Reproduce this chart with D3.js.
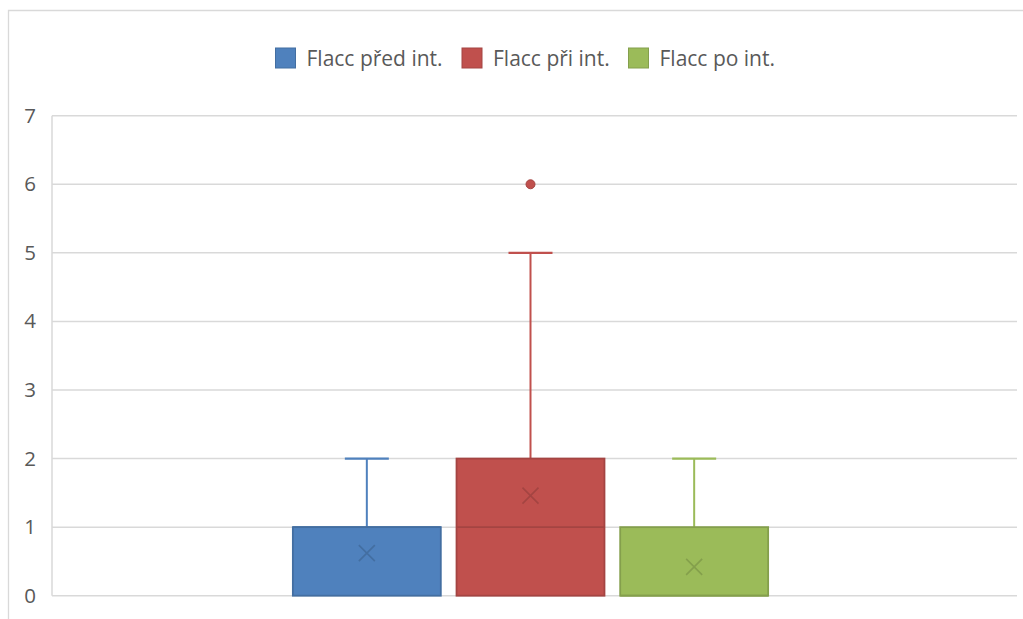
<!DOCTYPE html>
<html>
<head>
<meta charset="utf-8">
<script src="https://cdn.jsdelivr.net/npm/d3@7"></script>
<style>
  html, body { margin: 0; padding: 0; background: #fff; }
  svg { display: block; font-family: "Open Sans", "Noto Sans", sans-serif; }
</style>
</head>
<body>
<svg id="chart" width="1023" height="619"></svg>
<script>
// Box-and-whisker summary of FLACC scores before, during and after the intervention
const categories = [""];
const series = ["Flacc před int.", "Flacc při int.", "Flacc po int."];
const colors = ["#4F81BD", "#C0504D", "#9BBB59"];
const whiskerLow = [0, 0, 0];
const q1 = [0, 0, 0];
const median = [1, 1, 0];
const q3 = [1, 2, 1];
const whiskerHigh = [2, 5, 2];
const means = [0.62, 1.46, 0.42];
const outliers = [[], [6], []];
const yTicks = [0, 1, 2, 3, 4, 5, 6, 7];

const svg = d3.select("#chart");
const W = 1023, H = 619;
const plot = { left: 52, right: 1017, top: 115.7, bottom: 595.7 };
const textColor = "#595959";
const gridColor = "#d9d9d9";

// chart frame
svg.append("path")
  .attr("d", `M${W + 2},10.5 H8.5 V${H + 2}`)
  .attr("fill", "none").attr("stroke", gridColor).attr("stroke-width", 1.3);

const y = d3.scaleLinear().domain([0, 7]).range([plot.bottom, plot.top]);
const xCat = d3.scaleBand().domain(categories).range([plot.left, 1009]);
const catCenter = xCat(categories[0]) + xCat.bandwidth() / 2;
const xSer = d3.scaleBand().domain(series)
  .range([catCenter - 245.5, catCenter + 245.5])
  .paddingInner(0.096).paddingOuter(0.048);

// horizontal gridlines
svg.append("g").selectAll("line").data(yTicks).join("line")
  .attr("x1", plot.left).attr("x2", plot.right)
  .attr("y1", d => y(d)).attr("y2", d => y(d))
  .attr("stroke", gridColor).attr("stroke-width", 1.5);

// vertical axis line
svg.append("line")
  .attr("x1", plot.left).attr("x2", plot.left)
  .attr("y1", y(7)).attr("y2", y(0))
  .attr("stroke", gridColor).attr("stroke-width", 1.5);

// y axis labels
const yAxis = d3.axisLeft(y).tickValues(yTicks).tickSize(0).tickPadding(0).tickFormat(d3.format("d"));
const yg = svg.append("g").attr("transform", `translate(36,0)`).call(yAxis);
yg.select(".domain").remove();
yg.selectAll("text").attr("fill", textColor).attr("font-size", 20.5)
  .attr("font-family", "'Open Sans', sans-serif");

// boxes
const boxes = svg.append("g").selectAll("g").data(series).join("g");
boxes.each(function (s, i) {
  const g = d3.select(this);
  const c = colors[i];
  const dark = d3.color(c).darker(0.45).formatHex();
  const x0 = xSer(s), bw = xSer.bandwidth(), cx = x0 + bw / 2;
  const capW = 44;

  // upper whisker
  g.append("line").attr("x1", cx).attr("x2", cx)
    .attr("y1", y(q3[i])).attr("y2", y(whiskerHigh[i]))
    .attr("stroke", c).attr("stroke-width", 2);
  g.append("line").attr("x1", cx - capW / 2).attr("x2", cx + capW / 2)
    .attr("y1", y(whiskerHigh[i])).attr("y2", y(whiskerHigh[i]))
    .attr("stroke", c).attr("stroke-width", 2.2);
  // lower whisker
  g.append("line").attr("x1", cx).attr("x2", cx)
    .attr("y1", y(whiskerLow[i])).attr("y2", y(q1[i]))
    .attr("stroke", c).attr("stroke-width", 2);

  // box
  g.append("rect")
    .attr("x", x0).attr("y", y(q3[i]))
    .attr("width", bw).attr("height", y(q1[i]) - y(q3[i]))
    .attr("fill", c).attr("stroke", dark).attr("stroke-width", 1.8);

  // median
  g.append("line").attr("x1", x0).attr("x2", x0 + bw)
    .attr("y1", y(median[i])).attr("y2", y(median[i]))
    .attr("stroke", dark).attr("stroke-width", 1.8);

  // mean marker
  const my = y(means[i]), m = 8;
  g.append("path")
    .attr("d", `M${cx - m},${my - m}L${cx + m},${my + m}M${cx - m},${my + m}L${cx + m},${my - m}`)
    .attr("stroke", dark).attr("stroke-width", 1.6).attr("fill", "none");

  // outliers
  g.selectAll("circle").data(outliers[i]).join("circle")
    .attr("cx", cx).attr("cy", d => y(d)).attr("r", 4.5)
    .attr("fill", c).attr("stroke", dark).attr("stroke-width", 1);
});

// legend
const legendX = [275.5, 462, 628.5];
const legend = svg.append("g").selectAll("g").data(series).join("g")
  .attr("transform", (d, i) => `translate(${legendX[i]},48)`);
legend.append("rect").attr("width", 20).attr("height", 20)
  .attr("fill", (d, i) => colors[i])
  .attr("stroke", (d, i) => d3.color(colors[i]).darker(0.45).formatHex())
  .attr("stroke-width", 1);
legend.append("text").attr("x", 31).attr("y", 10).attr("dy", "0.36em")
  .attr("fill", textColor).attr("font-size", 21)
  .text(d => d);
</script>
</body>
</html>
